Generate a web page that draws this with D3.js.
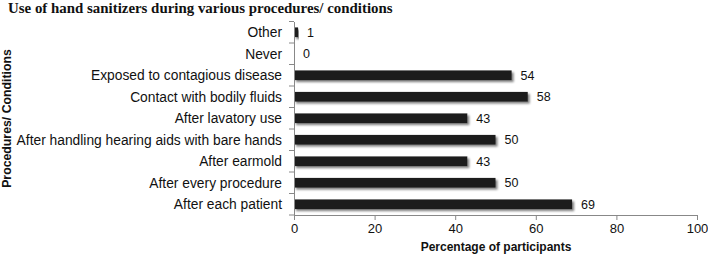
<!DOCTYPE html>
<html><head><meta charset="utf-8">
<script src="https://cdn.jsdelivr.net/npm/d3@7"></script>
<style>body{margin:0;background:#fff}svg{display:block}</style>
</head><body>
<svg id="c" width="708" height="255"></svg>
<script>
const categories = ["Other","Never","Exposed to contagious disease","Contact with bodily fluids","After lavatory use","After handling hearing aids with bare hands","After earmold","After every procedure","After each patient"];
const values = [1,0,54,58,43,50,43,50,69];
const xTicks = [0,20,40,60,80,100];
const title = "Use of hand sanitizers during various procedures/ conditions";
const xTitle = "Percentage of participants";
const yTitle = "Procedures/ Conditions";

const svg = d3.select("#c");
const defs = svg.append("defs");
const f = defs.append("filter").attr("id","sh").attr("x","-5%").attr("y","-50%").attr("width","115%").attr("height","200%");
f.append("feGaussianBlur").attr("in","SourceAlpha").attr("stdDeviation",1.2).attr("result","b");
f.append("feOffset").attr("in","b").attr("dx",1.5).attr("dy",1.5).attr("result","o");
f.append("feComponentTransfer").attr("in","o").attr("result","o2").append("feFuncA").attr("type","linear").attr("slope",0.5);
const m = f.append("feMerge"); m.append("feMergeNode").attr("in","o2"); m.append("feMergeNode").attr("in","SourceGraphic");

const x = d3.scaleLinear().domain([0,100]).range([294,697]);
const y = d3.scaleBand().domain(categories).range([21.5,215]).paddingInner(0.55).paddingOuter(0.275);
const font = "Liberation Sans, Arial, sans-serif";

svg.append("text").attr("x",8).attr("y",13).attr("font-family","Liberation Serif, Times New Roman, serif")
  .attr("font-weight","bold").attr("font-size",14.9).attr("fill","#111").text(title);

// bars
svg.append("g").selectAll("rect").data(values).join("rect")
  .attr("x",x(0)).attr("y",(d,i)=>y(categories[i]))
  .attr("width",d=>x(d)-x(0)).attr("height",y.bandwidth())
  .attr("fill","#1c1c1c").attr("filter","url(#sh)");

// value labels
svg.append("g").selectAll("text").data(values).join("text")
  .attr("x",d=>x(d)+9).attr("y",(d,i)=>y(categories[i])+y.bandwidth()/2)
  .attr("dy","0.35em").attr("font-family",font).attr("font-size",12.5).attr("fill","#111")
  .text(d=>d);

// y axis
const ya = d3.axisLeft(d3.scaleBand().domain(categories).range([21.5,215])).tickSize(0).tickFormat("");
const yg = svg.append("g").attr("transform",`translate(${x(0)},0)`).call(ya);
yg.select(".domain").attr("stroke","#888");
const edges = d3.range(categories.length+1).map(i=>21.5+i*(215-21.5)/categories.length);
yg.selectAll(".edge").data(edges).join("line").attr("x1",-5).attr("x2",0).attr("y1",d=>d).attr("y2",d=>d).attr("stroke","#888");
svg.append("g").selectAll("text").data(categories).join("text")
  .attr("x",282).attr("y",d=>y(d)+y.bandwidth()/2).attr("dy","0.35em").attr("text-anchor","end")
  .attr("font-family",font).attr("font-size",13.8).attr("fill","#111").text(d=>d);

// x axis
const xg = svg.append("g").attr("transform","translate(0,215)")
  .call(d3.axisBottom(x).tickValues(xTicks).tickSize(5).tickSizeOuter(0).tickPadding(4));
xg.select(".domain").attr("stroke","#888");
xg.selectAll(".tick line").attr("stroke","#888");
xg.selectAll(".tick text").attr("font-family",font).attr("font-size",13).attr("fill","#111");

svg.append("text").attr("x",496).attr("y",251).attr("text-anchor","middle").attr("font-family",font)
  .attr("font-weight","bold").attr("font-size",12).attr("fill","#111").text(xTitle);
svg.append("text").attr("transform","translate(11,118.5) rotate(-90)").attr("text-anchor","middle").attr("font-family",font)
  .attr("font-weight","bold").attr("font-size",12.3).attr("fill","#111").text(yTitle);
</script>
</body></html>
